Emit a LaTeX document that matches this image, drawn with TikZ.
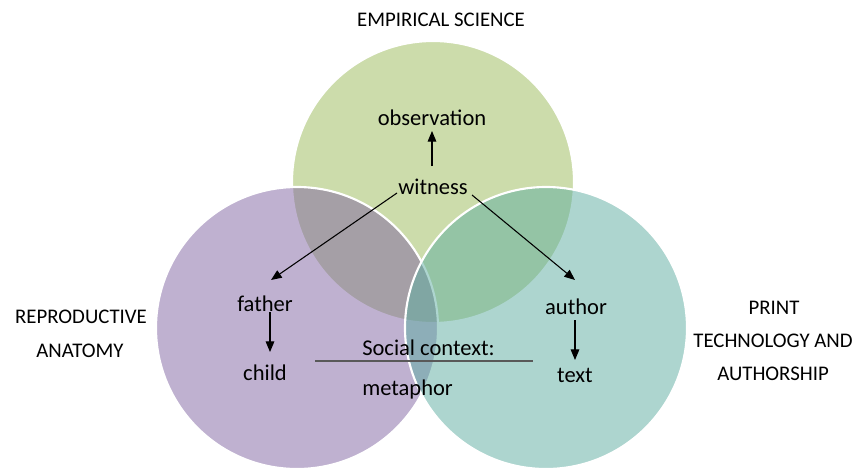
\documentclass[tikz,border=0pt]{standalone}
\usepackage{fontspec}
\setmainfont{Carlito}
\usetikzlibrary{arrows.meta}
\definecolor{cgreen}{HTML}{9BBB59}
\definecolor{cpurple}{HTML}{8064A2}
\definecolor{cteal}{HTML}{5DADA1}
\tikzset{
  venn/.style={draw=white, line width=1.6pt, fill opacity=0.5, draw opacity=1},
  word/.style={font=\fontsize{16.9}{18}\selectfont, inner sep=0pt, text=black},
  label/.style={font=\fontsize{15.6}{17}\selectfont, inner sep=0pt, text=black},
  arr/.style={draw=black, line width=0.8pt, -{Triangle[length=8pt,width=6.5pt]}}
}
\begin{document}
\begin{tikzpicture}[x=0.75pt,y=-0.75pt]
\useasboundingbox (0,0) rectangle (856,471);
\fill[white] (0,0) rectangle (856,471);
% circles
\path[venn, fill=cgreen] (433,182) circle[radius=105.75pt];
\path[venn, fill=cpurple] (297,328) circle[radius=105.75pt];
\path[venn, fill=cteal] (546,328) circle[radius=105.75pt];
% labels
\node[label] (emp) at (441,20) {EMPIRICAL SCIENCE};
\node[label] (rep1) at (81,317) {REPRODUCTIVE};
\node[label] (rep2) at (80,351) {ANATOMY};
\node[label] (pr1) at (774,308) {PRINT};
\node[label] (pr2) at (773,341) {TECHNOLOGY AND};
\node[label] (pr3) at (773,374) {AUTHORSHIP};
% words
\node[word] (obs) at (432,118) {observation};
\node[word] (wit) at (433,187) {witness};
\node[word] (fat) at (265,304) {father};
\node[word] (chi) at (265,373) {child};
\node[word] (aut) at (576,307) {author};
\node[word] (txt) at (575,375) {text};
\node[word, anchor=west] (soc) at (362,348) {Social context:};
\node[word, anchor=west] (met) at (362,389) {metaphor};
% connectors
\coordinate (obsb) at (432,131);
\coordinate (witt) at (432,166);
\draw[arr] (witt) -- (obsb);
\coordinate (wl) at (397,193);
\coordinate (fa) at (271,280);
\draw[arr] (wl) -- (fa);
\coordinate (wr) at (472,195);
\coordinate (au) at (575,280);
\draw[arr] (wr) -- (au);
\coordinate (f1) at (270,312);
\coordinate (f2) at (270,352);
\draw[arr] (f1) -- (f2);
\coordinate (a1) at (575,320);
\coordinate (a2) at (575,360);
\draw[arr] (a1) -- (a2);
\coordinate (l1) at (315,361);
\coordinate (l2) at (533,361);
\draw[draw=black!65, line width=0.8pt] (l1) -- (l2);
\end{tikzpicture}
\end{document}
